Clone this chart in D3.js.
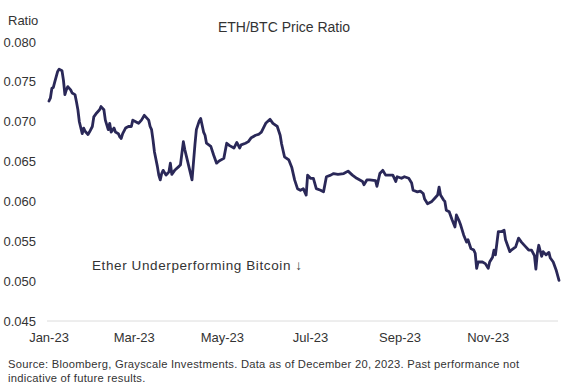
<!DOCTYPE html>
<html>
<head>
<meta charset="utf-8">
<script src="https://cdn.jsdelivr.net/npm/d3@7"></script>
<style>
  body { margin: 0; background: #fff; }
  text { font-family: "Liberation Sans", Arial, sans-serif; fill: #333; }
</style>
</head>
<body>
<div id="chart"></div>
<script>
var width = 561,
    height = 388;

// days since 1 Jan 2023 and the ETH/BTC ratio
var days = [0, 1, 2, 3, 4, 6, 7, 9, 10, 11, 12, 13, 15, 16, 18, 19, 20, 21, 23, 24,
  25, 27, 28, 30, 31, 33, 35, 36, 38, 39, 40, 41, 42, 43, 45, 46, 48, 49, 50, 51,
  53, 55, 57, 58, 60, 62, 64, 66, 69, 70, 71, 72, 73, 75, 76, 77, 78, 79, 81, 82,
  83, 84, 85, 87, 90, 91, 93, 94, 96, 99, 101, 102, 104, 105, 107, 108, 109, 112, 114, 116,
  118, 121, 123, 125, 128, 130, 132, 133, 136, 138, 140, 143, 145, 147, 150, 153, 155, 158, 160, 161,
  163, 166, 168, 170, 172, 174, 176, 178, 179, 181, 183, 185, 188, 190, 192, 195, 197, 200, 204, 207,
  210, 213, 217, 218, 220, 222, 226, 227, 229, 231, 233, 236, 238, 240, 241, 244, 246, 249, 251, 252,
  255, 257, 259, 260, 262, 265, 267, 269, 270, 271, 273, 274, 275, 277, 279, 281, 282, 284, 285, 287,
  289, 290, 292, 294, 295, 296, 297, 300, 302, 304, 305, 307, 308, 309, 311, 313, 315, 316, 317, 319,
  320, 323, 325, 327, 330, 332, 334, 336, 337, 338, 339, 341, 342, 344, 346, 347, 349, 351, 353];

var ratio = [0.0726, 0.0730, 0.0742, 0.0743, 0.0750, 0.0763, 0.0766, 0.0764, 0.0752, 0.0734,
  0.0740, 0.0744, 0.0740, 0.0736, 0.0734, 0.0725, 0.0715, 0.0700, 0.0685, 0.0692,
  0.0688, 0.0684, 0.0687, 0.0694, 0.0706, 0.0711, 0.0715, 0.0719, 0.0715, 0.0702,
  0.0696, 0.0690, 0.0698, 0.0687, 0.0692, 0.0687, 0.0685, 0.0681, 0.0679, 0.0685,
  0.0692, 0.0694, 0.0694, 0.0702, 0.0700, 0.0698, 0.0702, 0.0708, 0.0702, 0.0694,
  0.0690, 0.0677, 0.0662, 0.0644, 0.0633, 0.0627, 0.0635, 0.0639, 0.0633, 0.0635,
  0.0637, 0.0648, 0.0634, 0.0639, 0.0644, 0.0646, 0.0675, 0.0665, 0.0650, 0.0627,
  0.0671, 0.0690, 0.0701, 0.0704, 0.0687, 0.0683, 0.0673, 0.0669, 0.0658, 0.0648,
  0.0651, 0.0654, 0.0673, 0.0670, 0.0667, 0.0674, 0.0667, 0.0671, 0.0673, 0.0675,
  0.0680, 0.0683, 0.0684, 0.0687, 0.0698, 0.0703, 0.0698, 0.0694, 0.0683, 0.0672,
  0.0656, 0.0652, 0.0643, 0.0627, 0.0616, 0.0614, 0.0616, 0.0608, 0.0633, 0.0629,
  0.0629, 0.0616, 0.0614, 0.0612, 0.0631, 0.0633, 0.0635, 0.0634, 0.0635, 0.0638,
  0.0633, 0.0629, 0.0625, 0.0621, 0.0627, 0.0627, 0.0626, 0.0619, 0.0635, 0.0639,
  0.0633, 0.0633, 0.0633, 0.0625, 0.0631, 0.0629, 0.0631, 0.0629, 0.0623, 0.0614,
  0.0612, 0.0613, 0.0610, 0.0603, 0.0597, 0.0600, 0.0604, 0.0608, 0.0618, 0.0608,
  0.0602, 0.0600, 0.0589, 0.0587, 0.0577, 0.0568, 0.0583, 0.0575, 0.0570, 0.0558,
  0.0549, 0.0552, 0.0541, 0.0539, 0.0535, 0.0516, 0.0524, 0.0524, 0.0522, 0.0516,
  0.0524, 0.0530, 0.0539, 0.0533, 0.0562, 0.0562, 0.0564, 0.0552, 0.0547, 0.0537,
  0.0539, 0.0543, 0.0554, 0.0549, 0.0543, 0.0539, 0.0539, 0.0532, 0.0515, 0.0535,
  0.0545, 0.0531, 0.0537, 0.0533, 0.0536, 0.0529, 0.0524, 0.0514, 0.0501];

var yTicks = [0.045, 0.050, 0.055, 0.060, 0.065, 0.070, 0.075, 0.080];
var xTickLabels = ["Jan-23", "Mar-23", "May-23", "Jul-23", "Sep-23", "Nov-23"];

var start = new Date(2023, 0, 1);
var data = days.map(function(d, i) {
  return { date: d3.timeDay.offset(start, d), value: ratio[i] };
});

var svg = d3.select("#chart").append("svg")
    .attr("width", width)
    .attr("height", height);

var x = d3.scaleTime()
    .domain([start, new Date(2023, 11, 20)])
    .range([49, 559]);

var y = d3.scaleLinear()
    .domain([0.045, 0.080])
    .range([321, 42]);

// baseline
svg.append("line")
    .attr("x1", 47).attr("x2", 558)
    .attr("y1", y(0.045)).attr("y2", y(0.045))
    .style("stroke", "#dcdcdc")
    .style("stroke-width", 1);

// y tick labels
svg.selectAll("text.ytick")
    .data(yTicks)
  .enter().append("text")
    .attr("class", "ytick")
    .attr("x", 36)
    .attr("y", function(d) { return y(d); })
    .attr("dy", "0.35em")
    .attr("text-anchor", "end")
    .style("font-size", "13px")
    .text(d3.format(".3f"));

// x tick labels, every two months
var xTicks = d3.timeMonth.every(2).range(start, new Date(2023, 11, 2));
svg.selectAll("text.xtick")
    .data(xTicks)
  .enter().append("text")
    .attr("class", "xtick")
    .attr("x", function(d) { return x(d); })
    .attr("y", 337)
    .attr("dy", "0.35em")
    .attr("text-anchor", "middle")
    .style("font-size", "13px")
    .text(function(d, i) { return xTickLabels[i]; });

var line = d3.line()
    .x(function(d) { return x(d.date); })
    .y(function(d) { return y(d.value); });

svg.append("path")
    .datum(data)
    .attr("d", line)
    .style("fill", "none")
    .style("stroke", "#2a2858")
    .style("stroke-width", 2.8)
    .style("stroke-linejoin", "round")
    .style("stroke-linecap", "round");

svg.append("text")
    .attr("x", 8).attr("y", 20)
    .attr("dy", "0.35em")
    .style("font-size", "13px")
    .text("Ratio");

svg.append("text")
    .attr("x", 284).attr("y", 27)
    .attr("dy", "0.35em")
    .attr("text-anchor", "middle")
    .style("font-size", "14px")
    .text("ETH/BTC Price Ratio");

svg.append("text")
    .attr("x", 92).attr("y", 265)
    .attr("dy", "0.35em")
    .style("font-size", "13.5px")
    .style("letter-spacing", "0.6px")
    .text("Ether Underperforming Bitcoin \u2193");

svg.append("text")
    .attr("x", 8).attr("y", 364)
    .attr("dy", "0.35em")
    .style("font-size", "11.2px")
    .style("letter-spacing", "0.26px")
    .text("Source: Bloomberg,  Grayscale Investments. Data as of December 20, 2023. Past performance not");

svg.append("text")
    .attr("x", 8).attr("y", 378)
    .attr("dy", "0.35em")
    .style("font-size", "11.2px")
    .style("letter-spacing", "0.26px")
    .text("indicative of future results.");
</script>
</body>
</html>
